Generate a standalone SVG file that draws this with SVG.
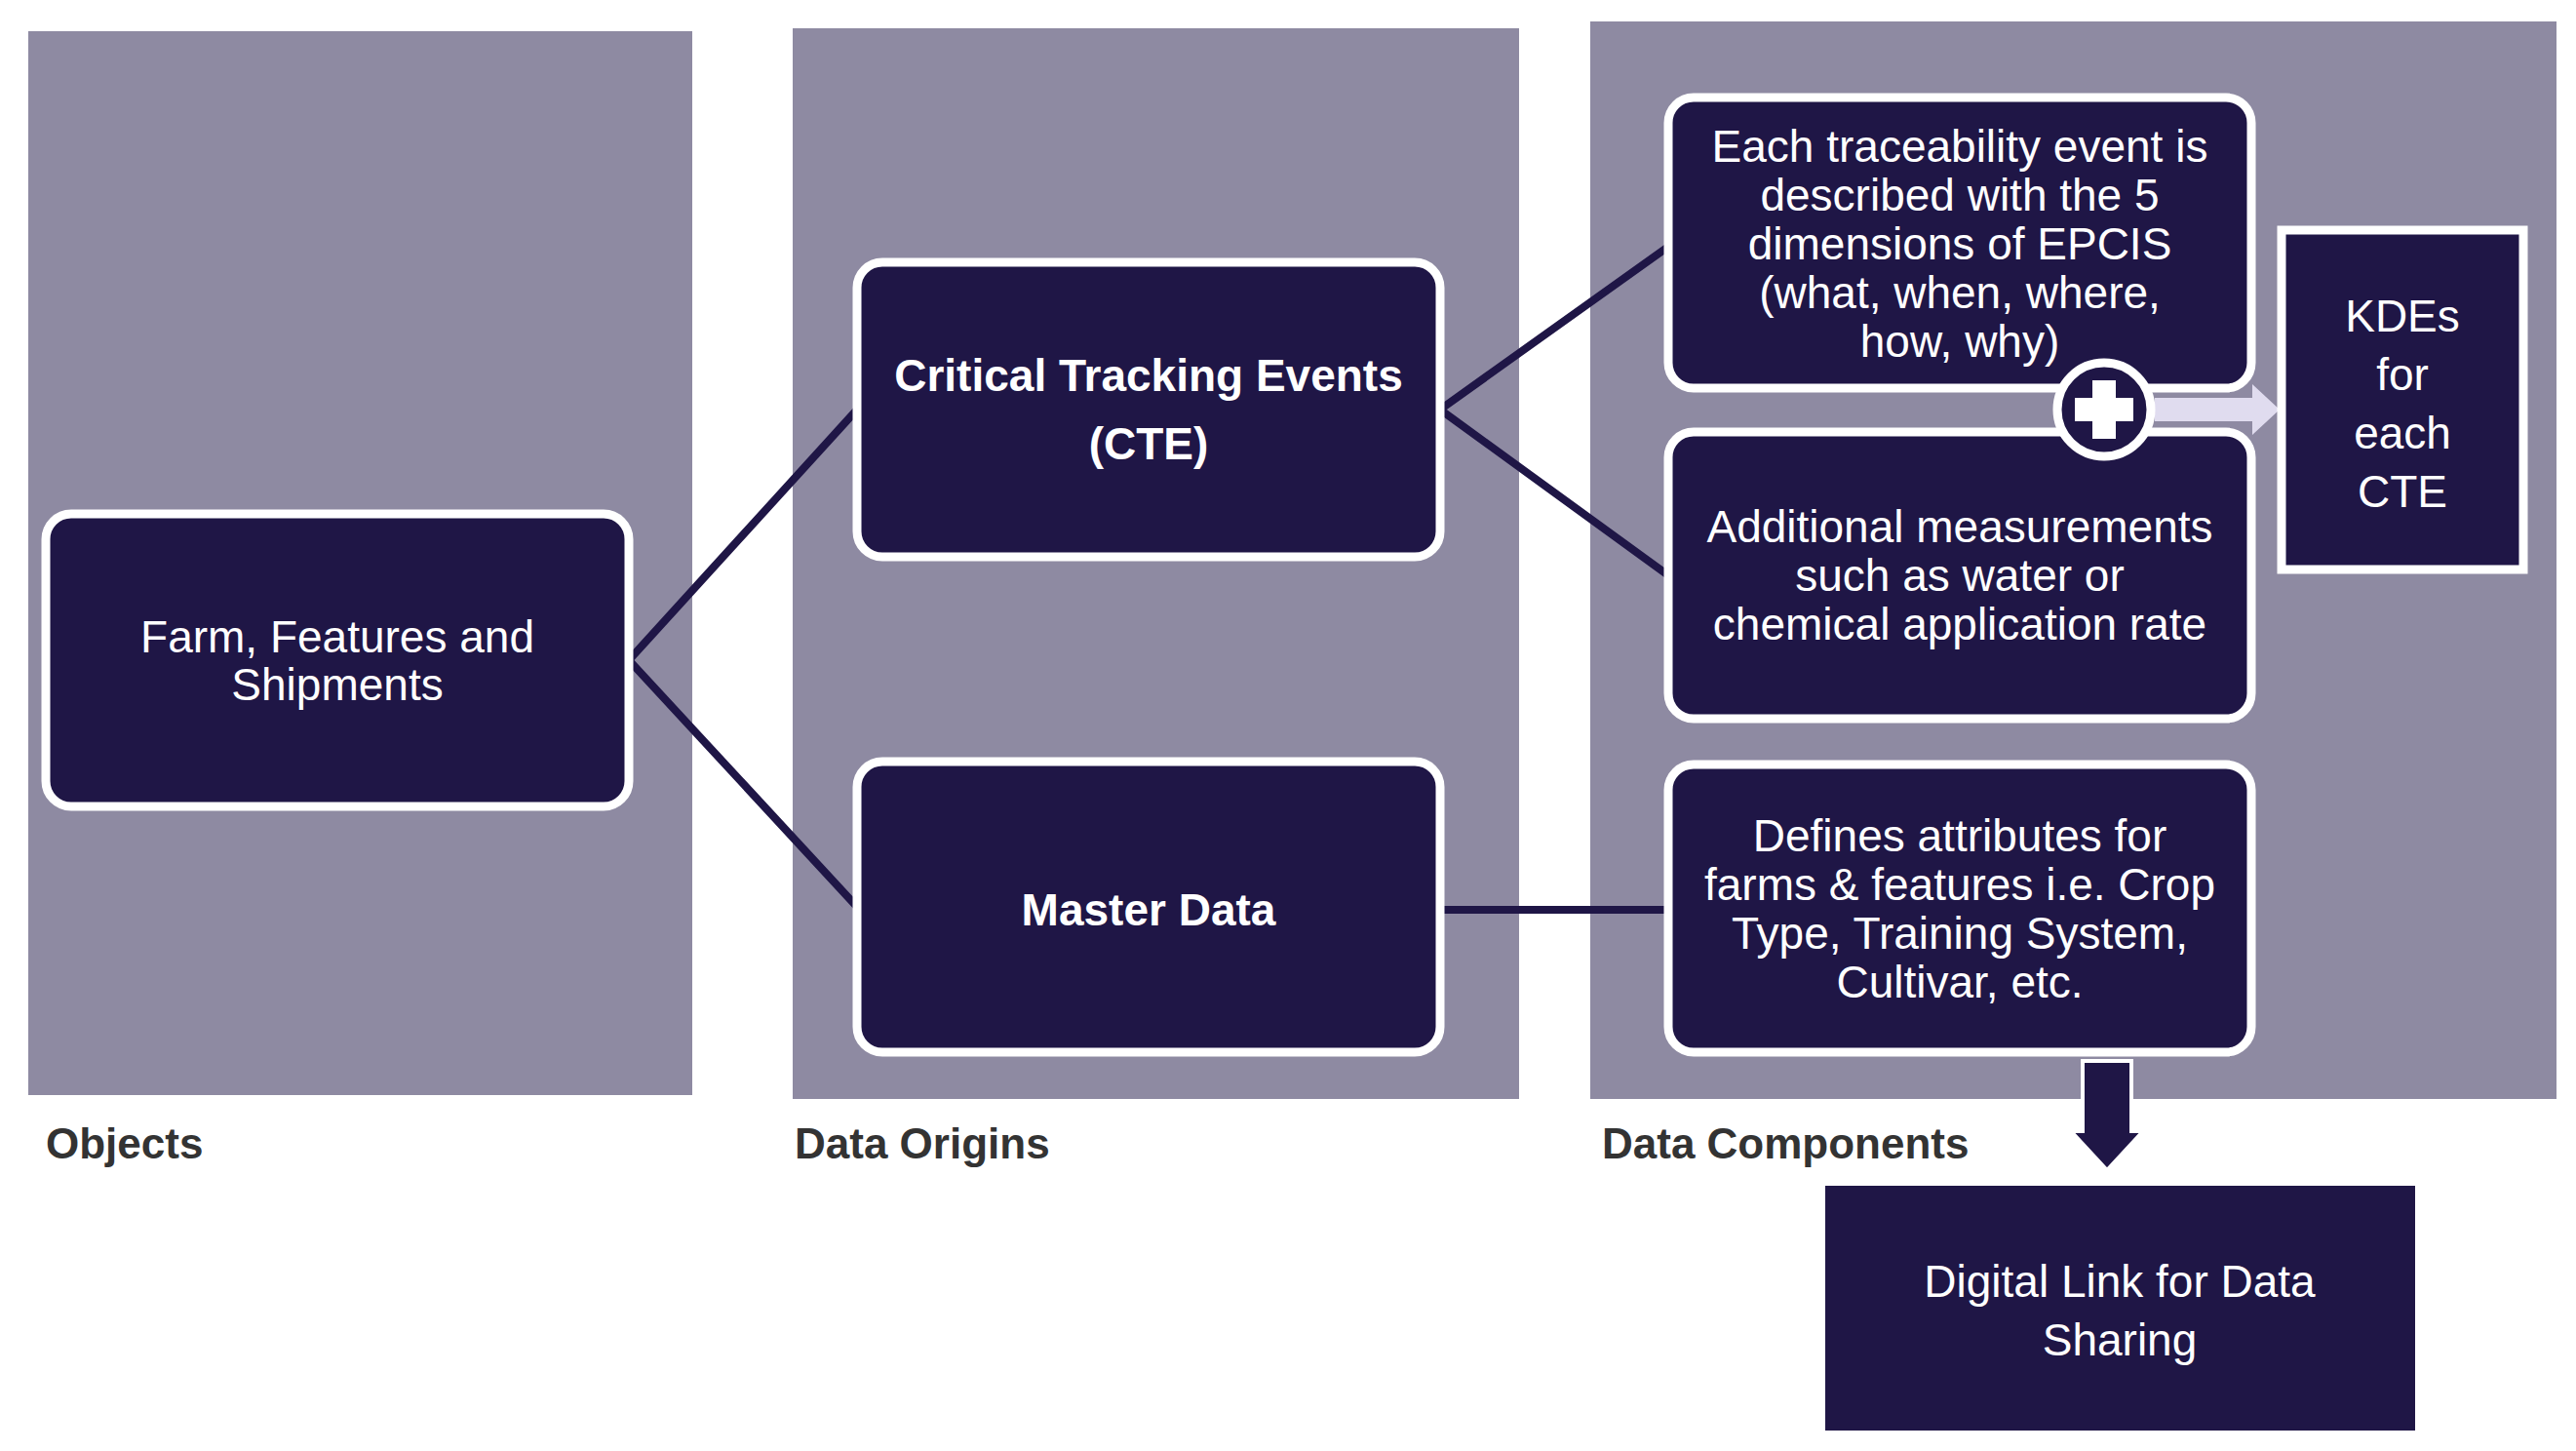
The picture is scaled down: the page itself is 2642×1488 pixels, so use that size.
<svg xmlns="http://www.w3.org/2000/svg" width="2642" height="1488" viewBox="0 0 2642 1488">
<style>
.panel{fill:#8e8aa2}
.box{fill:#1f1646;stroke:#fff;stroke-width:9}
.t{font-family:"Liberation Sans",Arial,sans-serif;font-size:46px;fill:#fff;text-anchor:middle}
.b{font-weight:bold}
.lab{font-family:"Liberation Sans",Arial,sans-serif;font-size:44px;font-weight:bold;fill:#333}
.con{stroke:#1f1646;stroke-width:8;fill:none}
</style>
<rect width="2642" height="1488" fill="#fff"/>
<rect class="panel" x="29" y="32" width="681" height="1091"/>
<rect class="panel" x="813" y="29" width="745" height="1098"/>
<rect class="panel" x="1631" y="22" width="991" height="1105"/>
<text class="lab" x="47" y="1188">Objects</text>
<text class="lab" x="815" y="1188">Data Origins</text>
<text class="lab" x="1643" y="1188">Data Components</text>
<g id="connectors">
<polyline class="con" points="879,420 645,677 879,930"/>
<polyline class="con" points="1711,253 1477,420 1711,590"/>
<line class="con" x1="1477" y1="933" x2="1711" y2="933"/>
<path d="M2210,408 H2310 V394 L2338,420 L2310,446 V432 H2210 Z" fill="#e0dcef"/>
<path d="M2136,1088 V1160 H2124 L2161,1200 L2198,1160 H2186 V1088 Z" fill="#1f1646" stroke="#fff" stroke-width="4"/>
</g>
<g id="farm">
<rect class="box" x="47" y="527" width="598" height="300" rx="26"/>
<text class="t" x="346" y="669">Farm, Features and</text>
<text class="t" x="346" y="718">Shipments</text>
</g>
<g id="cte">
<rect class="box" x="879" y="269" width="598" height="302" rx="26"/>
<text class="t b" x="1178" y="401">Critical Tracking Events</text>
<text class="t b" x="1178" y="471">(CTE)</text>
</g>
<g id="master">
<rect class="box" x="879" y="781" width="598" height="298" rx="26"/>
<text class="t b" x="1178" y="949">Master Data</text>
</g>
<g id="epcis">
<rect class="box" x="1711" y="100" width="598" height="298" rx="26"/>
<text class="t" x="2010" y="166">Each traceability  event is</text>
<text class="t" x="2010" y="216">described with the 5</text>
<text class="t" x="2010" y="266">dimensions of EPCIS</text>
<text class="t" x="2010" y="316">(what,  when, where,</text>
<text class="t" x="2010" y="366">how, why)</text>
</g>
<g id="measure">
<rect class="box" x="1711" y="443" width="598" height="294" rx="26"/>
<text class="t" x="2010" y="556">Additional measurements</text>
<text class="t" x="2010" y="606">such as water or</text>
<text class="t" x="2010" y="656">chemical application rate</text>
</g>
<g id="plus">
<circle cx="2158" cy="420" r="48" fill="#1f1646" stroke="#fff" stroke-width="9"/>
<path d="M2146,390 H2170 V408 H2188 V432 H2170 V450 H2146 V432 H2128 V408 H2146 Z" fill="#fff"/>
</g>
<g id="kdes">
<rect class="box" x="2340" y="236" width="248" height="348"/>
<text class="t" x="2464" y="340">KDEs</text>
<text class="t" x="2464" y="400">for</text>
<text class="t" x="2464" y="460">each</text>
<text class="t" x="2464" y="520">CTE</text>
</g>
<g id="attrs">
<rect class="box" x="1711" y="784" width="598" height="295" rx="26"/>
<text class="t" x="2010" y="873">Defines attributes for</text>
<text class="t" x="2010" y="923">farms &amp; features i.e. Crop</text>
<text class="t" x="2010" y="973">Type, Training System,</text>
<text class="t" x="2010" y="1023">Cultivar, etc.</text>
</g>
<g id="digital">
<rect x="1872" y="1216" width="605" height="251" fill="#1f1646"/>
<text class="t" x="2174" y="1330">Digital Link for Data</text>
<text class="t" x="2174" y="1390">Sharing</text>
</g>
</svg>
